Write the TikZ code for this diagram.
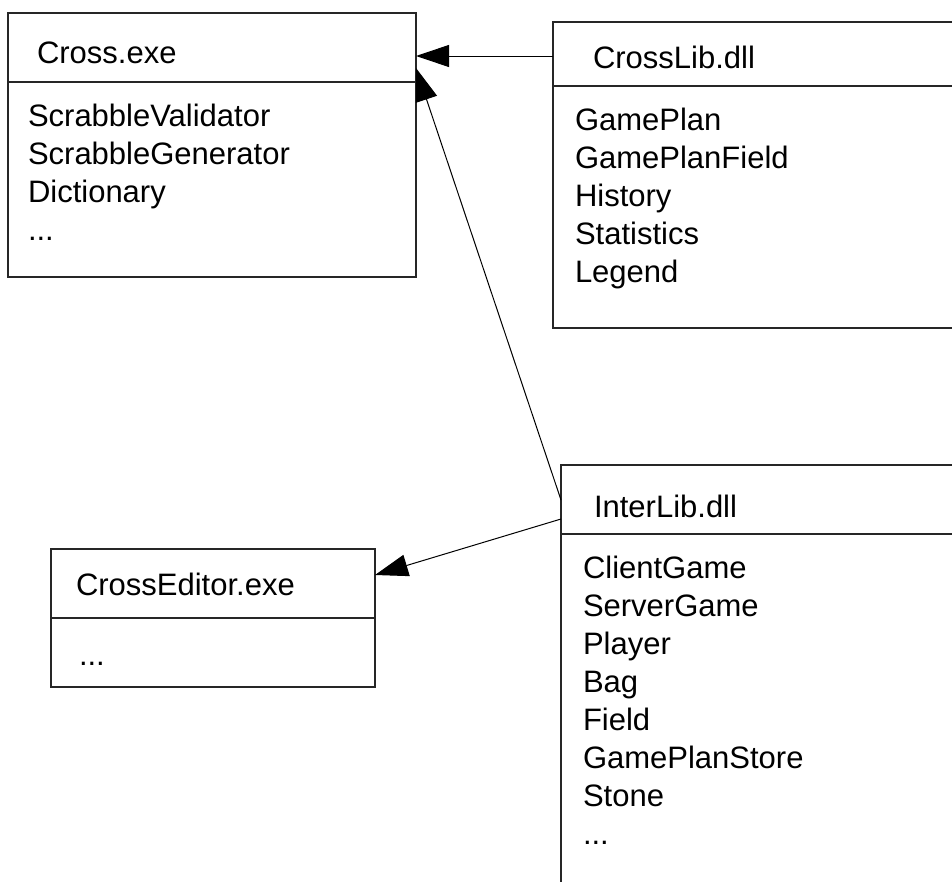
\documentclass[tikz,border=0pt]{standalone}
\usepackage{fontspec}
\setmainfont{Liberation Sans}
\usetikzlibrary{arrows.meta}
\begin{document}
\begin{tikzpicture}[x=1pt,y=-1pt,
  box/.style={draw=black!85,line width=1.2pt,anchor=north west,inner sep=0pt,outer sep=0pt,rectangle},
  divider/.style={draw=black!85,line width=1.2pt},
  txt/.style={anchor=base west,inner sep=0pt,outer sep=0pt,font=\fontsize{31}{38}\selectfont},
  dep/.style={draw=black,line width=1pt,-{Triangle[length=33pt,width=22pt]}}]
\useasboundingbox (0,0) rectangle (952,881);
\clip (0,0) rectangle (952,881);
\fill[white] (0,0) rectangle (952,881);
% boxes
\node[box,minimum width=408pt,minimum height=264pt] (cross) at (8,13) {};
\node[box,minimum width=420pt,minimum height=306pt] (crosslib) at (553,22) {};
\node[box,minimum width=420pt,minimum height=440pt] (interlib) at (561,465) {};
\node[box,minimum width=324pt,minimum height=138pt] (editor) at (51,549) {};
% dividers
\draw[divider] (cross.west |- 0,82) -- (cross.east |- 0,82);
\draw[divider] (crosslib.west |- 0,86) -- (crosslib.east |- 0,86);
\draw[divider] (interlib.west |- 0,534) -- (interlib.east |- 0,534);
\draw[divider] (editor.west |- 0,618) -- (editor.east |- 0,618);
% Cross.exe
\node[txt] (crossT) at (37,63) {Cross.exe};
\node[txt] (c1) at (28,126) {ScrabbleValidator};
\node[txt] (c2) at (28,164) {ScrabbleGenerator};
\node[txt] (c3) at (28,202) {Dictionary};
\node[txt] (c4) at (28,240) {...};
% CrossLib.dll
\node[txt] (clT) at (593,68) {CrossLib.dll};
\node[txt] (l1) at (575,130) {GamePlan};
\node[txt] (l2) at (575,168) {GamePlanField};
\node[txt] (l3) at (575,206) {History};
\node[txt] (l4) at (575,244) {Statistics};
\node[txt] (l5) at (575,282) {Legend};
% InterLib.dll
\node[txt] (ilT) at (594,517) {InterLib.dll};
\node[txt] (i1) at (583,578) {ClientGame};
\node[txt] (i2) at (583,616) {ServerGame};
\node[txt] (i3) at (583,654) {Player};
\node[txt] (i4) at (583,692) {Bag};
\node[txt] (i5) at (583,730) {Field};
\node[txt] (i6) at (583,768) {GamePlanStore};
\node[txt] (i7) at (583,806) {Stone};
\node[txt] (i8) at (583,844) {...};
% CrossEditor.exe
\node[txt] (ceT) at (76,595) {CrossEditor.exe};
\node[txt] (e1) at (79,665) {...};
% connection points
\coordinate (clOut) at (crosslib.west |- 0,56);
\coordinate (crIn1) at (cross.east |- 0,56);
\coordinate (ilOut1) at (interlib.west |- 0,500);
\coordinate (crIn2) at (cross.east |- 0,68);
\coordinate (ilOut2) at (interlib.west |- 0,519);
\coordinate (edIn) at (editor.east |- 0,575);
% connectors
\draw[dep] (clOut) -- (crIn1);
\draw[dep] (ilOut1) -- (crIn2);
\draw[dep] (ilOut2) -- (edIn);
\end{tikzpicture}
\end{document}
